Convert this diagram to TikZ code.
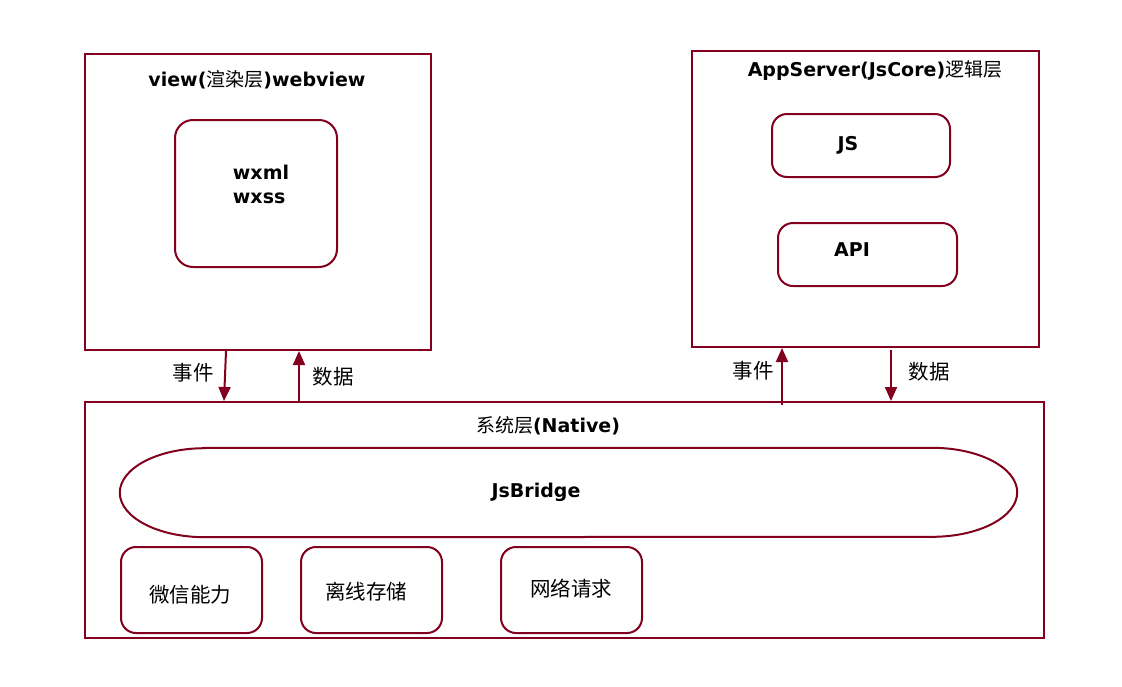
\documentclass[tikz,border=0pt]{standalone}
\usepackage{fontspec}
\setmainfont{DejaVu Sans}
\newfontfamily\cjk{Noto Sans CJK SC}
\usetikzlibrary{arrows.meta}
\definecolor{dred}{RGB}{130,0,30}
\begin{document}
\begin{tikzpicture}[x=1pt,y=-1pt,
  line/.style={draw=dred,line width=2pt},
  layer/.style={line,rectangle,inner sep=0pt},
  rbox/.style={line,rectangle,rounded corners=15pt,inner sep=0pt},
  ttl/.style={font=\fontsize{19}{23}\selectfont\bfseries,inner sep=0pt},
  lbl/.style={font=\fontsize{19}{24}\selectfont\bfseries,inner sep=0pt,align=left},
  cn/.style={font=\fontsize{20.5}{24}\cjk,inner sep=0pt},
  arr/.style={draw=dred,line width=2pt,-{Triangle[width=12pt,length=14pt]}}]
\useasboundingbox (0,0) rectangle (1122,686);
\fill[white] (0,0) rectangle (1122,686);
% layers
\node[layer,minimum width=346pt,minimum height=296pt] (view) at (258,202) {};
\node[layer,minimum width=347pt,minimum height=296pt] (app) at (865.5,199) {};
\node[layer,minimum width=959pt,minimum height=236pt] (native) at (564.5,520) {};
% titles
\node[ttl] (viewt) at (257,80) {view({\mdseries\cjk 渲染层})webview};
\node[ttl] (appt) at (875,70) {AppServer(JsCore){\mdseries\cjk 逻辑层}};
\node[ttl] (nativet) at (548,426) {{\mdseries\cjk 系统层}(Native)};
% inner boxes
\node[rbox,rounded corners=18pt,minimum width=162pt,minimum height=147pt] (wx) at (256,193.5) {};
\node[lbl] (wxt) at (261,184) {wxml\\wxss};
\node[rbox,minimum width=178pt,minimum height=63pt] (js) at (861,145.5) {};
\node[lbl] (jst) at (848,145) {JS};
\node[rbox,minimum width=179pt,minimum height=63pt] (api) at (867.5,254.5) {};
\node[lbl] (apit) at (852,250) {API};
% JsBridge
\node[inner sep=0pt,minimum width=897pt,minimum height=89pt] (jsb) at (568.5,492.5) {};
\draw[line] ([xshift=85pt]jsb.north west) -- ([xshift=-85pt]jsb.north east)
  arc[start angle=90,end angle=-90,x radius=85pt,y radius=44.5pt]
  -- ([xshift=85pt]jsb.south west)
  arc[start angle=270,end angle=90,x radius=85pt,y radius=44.5pt] -- cycle;
\node[lbl] (jsbt) at (536,492) {JsBridge};
% bottom boxes
\node[rbox,minimum width=141pt,minimum height=86pt] (wc) at (191.5,590) {};
\node[cn] (wct) at (190,595) {微信能力};
\node[rbox,minimum width=141pt,minimum height=86pt] (lx) at (371.5,590) {};
\node[cn] (lxt) at (366,592) {离线存储};
\node[rbox,minimum width=141pt,minimum height=86pt] (wl) at (571.5,590) {};
\node[cn] (wlt) at (571,589) {网络请求};
% arrows
\draw[arr] ([xshift=-32pt]view.south) -- ([xshift=-340.5pt]native.north);
\draw[arr] ([xshift=-265.5pt,yshift=-2pt]native.north) -- ([xshift=41pt]view.south);
\draw[arr] ([xshift=217.5pt,yshift=-4pt]native.north) -- ([xshift=-83.5pt]app.south);
\draw[arr] ([xshift=25.5pt,yshift=-2pt]app.south) -- ([xshift=326.5pt]native.north);
\node[cn] (e1) at (193,373) {事件};
\node[cn] (d1) at (333,377) {数据};
\node[cn] (e2) at (753,371) {事件};
\node[cn] (d2) at (929,372) {数据};
\end{tikzpicture}
\end{document}
